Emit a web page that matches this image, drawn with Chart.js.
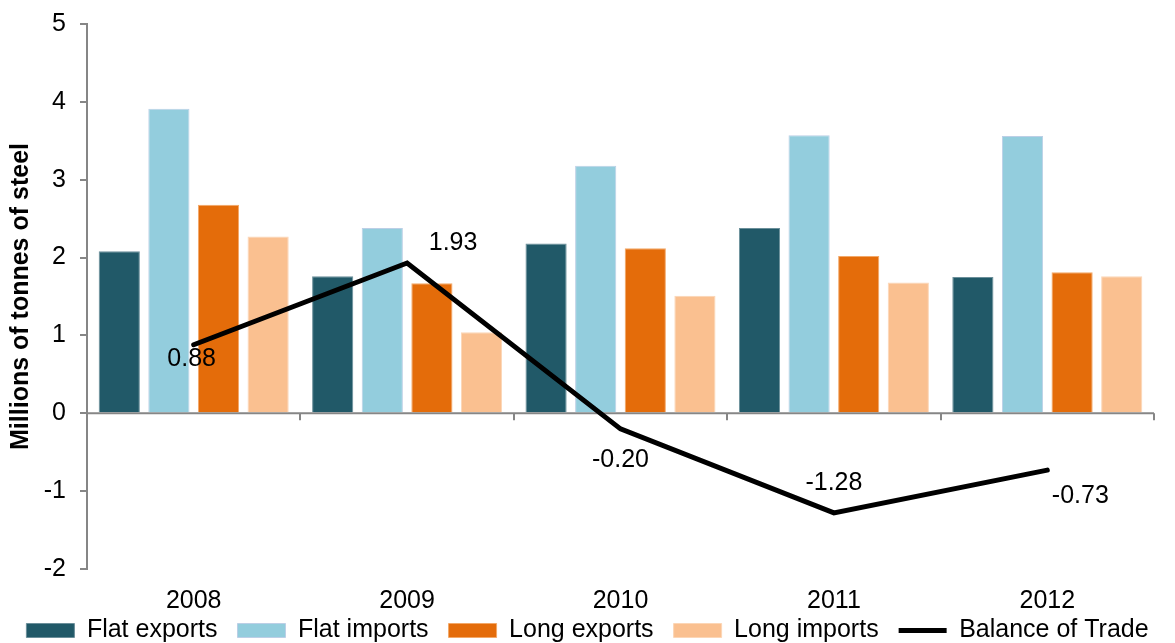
<!DOCTYPE html>
<html>
<head>
<meta charset="utf-8">
<script src="https://cdn.jsdelivr.net/npm/chart.js@4"></script>
<style>
    html, body { margin: 0; padding: 0; background: #ffffff; }
    #wrap { width: 1175px; height: 643px; position: relative; }
</style>
</head>
<body>
<div id="wrap"><canvas id="steelChart"></canvas></div>
<script>
// Data
const years = ['2008', '2009', '2010', '2011', '2012'];
const flatExports = [2.08, 1.76, 2.18, 2.38, 1.75];
const flatImports = [3.91, 2.38, 3.18, 3.57, 3.56];
const longExports = [2.68, 1.67, 2.12, 2.02, 1.81];
const longImports = [2.27, 1.04, 1.51, 1.68, 1.76];
const balanceOfTrade = [0.88, 1.93, -0.20, -1.28, -0.73];

// Label nudges for the balance line (px from the point)
const balanceLabelOffsets = [[-2, 14], [46, -20], [0, 31], [0, -30], [33, 26]];

const axisGrey = '#868686';
const fontFamily = '"Liberation Sans", Arial, sans-serif';

// Draw the category axis through y = 0 with ticks at the category boundaries
const zeroAxisPlugin = {
    id: 'zeroAxis',
    afterLayout(chart) {
        // let the year labels hang below the (short) x axis box without clipping
        chart.scales.x.bottom = chart.height;
    },
    beforeDatasetsDraw(chart) {
        const ctx = chart.ctx;
        const x = chart.scales.x;
        const y0 = chart.scales.y.getPixelForValue(0);
        ctx.save();
        ctx.strokeStyle = axisGrey;
        ctx.lineWidth = 2;
        ctx.beginPath();
        ctx.moveTo(x.left, y0);
        ctx.lineTo(x.right, y0);
        const step = (x.right - x.left) / years.length;
        for (let i = 0; i <= years.length; i++) {
            const px = Math.round(x.left + i * step);
            ctx.moveTo(px, y0);
            ctx.lineTo(px, y0 + 7);
        }
        ctx.stroke();
        ctx.restore();
    }
};

// Value labels on the balance line
const balanceLabelsPlugin = {
    id: 'balanceLabels',
    afterDatasetsDraw(chart) {
        const ctx = chart.ctx;
        const meta = chart.getDatasetMeta(4);
        ctx.save();
        ctx.font = '25px ' + fontFamily;
        ctx.fillStyle = '#000000';
        ctx.textAlign = 'center';
        ctx.textBaseline = 'middle';
        meta.data.forEach((pt, i) => {
            const off = balanceLabelOffsets[i];
            ctx.fillText(balanceOfTrade[i].toFixed(2), pt.x + off[0], pt.y + off[1]);
        });
        ctx.restore();
    }
};

const barStyle = {
    borderWidth: 1,
    categoryPercentage: 0.93,
    barPercentage: 0.83,
    pointStyle: 'rect',
    order: 2
};

const ctx = document.getElementById('steelChart').getContext('2d');
const steelChart = new Chart(ctx, {
    type: 'bar',
    data: {
        labels: years,
        datasets: [
            { label: 'Flat exports', data: flatExports, backgroundColor: '#215968', borderColor: '#6b8f9a', ...barStyle },
            { label: 'Flat imports', data: flatImports, backgroundColor: '#93cddd', borderColor: '#bccfe6', ...barStyle },
            { label: 'Long exports', data: longExports, backgroundColor: '#e46c0a', borderColor: '#f3a868', ...barStyle },
            { label: 'Long imports', data: longImports, backgroundColor: '#fac090', borderColor: '#fcd6b6', ...barStyle },
            {
                label: 'Balance of Trade',
                type: 'line',
                data: balanceOfTrade,
                borderColor: '#000000',
                backgroundColor: '#000000',
                borderWidth: 5,
                borderCapStyle: 'round',
                pointRadius: 0,
                pointStyle: 'line',
                tension: 0,
                order: 1
            }
        ]
    },
    options: {
        responsive: true,
        maintainAspectRatio: false,
        animation: false,
        layout: {
            padding: { top: 16, right: 0, left: 0, bottom: -10 }
        },
        scales: {
            x: {
                grid: { display: false, drawTicks: false },
                border: { display: false },
                ticks: {
                    color: '#000000',
                    padding: 17,
                    font: { family: fontFamily, size: 25 }
                },
                afterFit(scale) {
                    scale.height = 29;
                }
            },
            y: {
                min: -2,
                max: 5,
                ticks: {
                    stepSize: 1,
                    color: '#000000',
                    padding: 14,
                    font: { family: fontFamily, size: 25, lineHeight: 0.8 }
                },
                grid: {
                    drawOnChartArea: false,
                    drawTicks: true,
                    tickLength: 7,
                    color: axisGrey,
                    lineWidth: 2
                },
                border: { display: true, color: axisGrey, width: 2 },
                title: {
                    display: true,
                    text: 'Millions of tonnes of steel',
                    color: '#000000',
                    padding: 6,
                    font: { family: fontFamily, size: 25, weight: 'bold' }
                },
                afterFit(scale) {
                    scale.width = 87;
                }
            },
            // empty right-hand spacer so the legend can use the full width
            spacer: {
                type: 'linear',
                position: 'right',
                ticks: { display: false },
                grid: { display: false },
                border: { display: false },
                afterFit(scale) {
                    scale.width = 21;
                }
            }
        },
        plugins: {
            legend: {
                position: 'bottom',
                labels: {
                    color: '#000000',
                    usePointStyle: true,
                    pointStyleWidth: 48,
                    boxHeight: 14,
                    padding: 20,
                    font: { family: fontFamily, size: 25 },
                    sort: (a, b) => a.datasetIndex - b.datasetIndex
                }
            },
            tooltip: { enabled: false }
        }
    },
    plugins: [zeroAxisPlugin, balanceLabelsPlugin]
});
</script>
</body>
</html>
